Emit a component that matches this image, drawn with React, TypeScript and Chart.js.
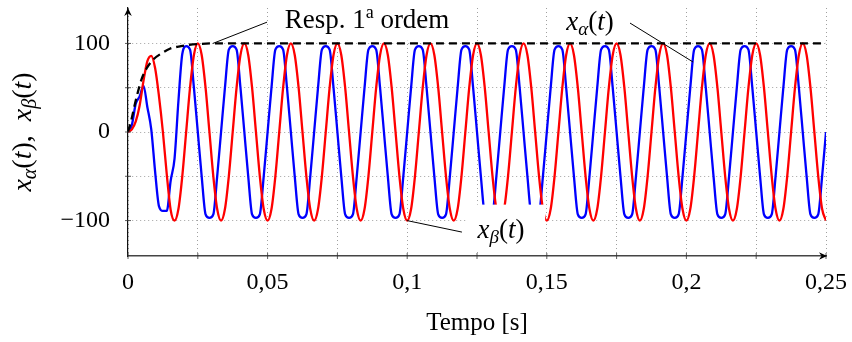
import React, { useEffect, useRef } from 'react';
import { Chart, registerables } from 'chart.js';

Chart.register(...registerables);

// ---------------- data ----------------
// sample times in milliseconds
const timeMs = [
  0, 1.39, 2.78, 4.17, 5.56, 6.94, 8.33, 9.72, 11.11, 12.5, 13.89, 15.28,
  16.67, 18.06, 19.44, 20.83, 22.22, 23.61, 25, 26.39, 27.78, 29.17, 30.56, 31.94,
  33.33, 34.72, 36.11, 37.5, 38.89, 40.28, 41.67, 43.06, 44.44, 45.83, 47.22, 48.61,
  50, 51.39, 52.78, 54.17, 55.56, 56.94, 58.33, 59.72, 61.11, 62.5, 63.89, 65.28,
  66.67, 68.06, 69.44, 70.83, 72.22, 73.61, 75, 76.39, 77.78, 79.17, 80.56, 81.94,
  83.33, 84.72, 86.11, 87.5, 88.89, 90.28, 91.67, 93.06, 94.44, 95.83, 97.22, 98.61,
  100, 101.39, 102.78, 104.17, 105.56, 106.94, 108.33, 109.72, 111.11, 112.5, 113.89, 115.28,
  116.67, 118.06, 119.44, 120.83, 122.22, 123.61, 125, 126.39, 127.78, 129.17, 130.56, 131.94,
  133.33, 134.72, 136.11, 137.5, 138.89, 140.28, 141.67, 143.06, 144.44, 145.83, 147.22, 148.61,
  150, 151.39, 152.78, 154.17, 155.56, 156.94, 158.33, 159.72, 161.11, 162.5, 163.89, 165.28,
  166.67, 168.06, 169.44, 170.83, 172.22, 173.61, 175, 176.39, 177.78, 179.17, 180.56, 181.94,
  183.33, 184.72, 186.11, 187.5, 188.89, 190.28, 191.67, 193.06, 194.44, 195.83, 197.22, 198.61,
  200, 201.39, 202.78, 204.17, 205.56, 206.94, 208.33, 209.72, 211.11, 212.5, 213.89, 215.28,
  216.67, 218.06, 219.44, 220.83, 222.22, 223.61, 225, 226.39, 227.78, 229.17, 230.56, 231.94,
  233.33, 234.72, 236.11, 237.5, 238.89, 240.28, 241.67, 243.06, 244.44, 245.83, 247.22, 248.61,
  250,
];

// x_alpha(t) (blue)
const xAlpha = [
  0, 8, 32, 40, 52, 28, 3, -45, -84, -89, -89, -55,
  -30, 35, 88, 97, 93, 50, 0, -50, -93, -97, -93, -50,
  0, 50, 93, 97, 93, 50, 0, -50, -93, -97, -93, -50,
  0, 50, 93, 97, 93, 50, 0, -50, -93, -97, -93, -50,
  0, 50, 93, 97, 93, 50, 0, -50, -93, -97, -93, -50,
  0, 50, 93, 97, 93, 50, 0, -50, -93, -97, -93, -50,
  0, 50, 93, 97, 93, 50, 0, -50, -93, -97, -93, -50,
  0, 50, 93, 97, 93, 50, 0, -50, -93, -97, -93, -50,
  0, 50, 93, 97, 93, 50, 0, -50, -93, -97, -93, -50,
  0, 50, 93, 97, 93, 50, 0, -50, -93, -97, -93, -50,
  0, 50, 93, 97, 93, 50, 0, -50, -93, -97, -93, -50,
  0, 50, 93, 97, 93, 50, 0, -50, -93, -97, -93, -50,
  0, 50, 93, 97, 93, 50, 0, -50, -93, -97, -93, -50,
  0, 50, 93, 97, 93, 50, 0, -50, -93, -97, -93, -50,
  0, 50, 93, 97, 93, 50, 0, -50, -93, -97, -93, -50,
  0,
];

// x_beta(t) (red)
const xBeta = [
  0, 3, 12, 30, 58, 80, 86, 72, 40, 0, -48, -88,
  -100, -87, -50, 0, 50, 87, 100, 87, 50, 0, -50, -87,
  -100, -87, -50, 0, 50, 87, 100, 87, 50, 0, -50, -87,
  -100, -87, -50, 0, 50, 87, 100, 87, 50, 0, -50, -87,
  -100, -87, -50, 0, 50, 87, 100, 87, 50, 0, -50, -87,
  -100, -87, -50, 0, 50, 87, 100, 87, 50, 0, -50, -87,
  -100, -87, -50, 0, 50, 87, 100, 87, 50, 0, -50, -87,
  -100, -87, -50, 0, 50, 87, 100, 87, 50, 0, -50, -87,
  -100, -87, -50, 0, 50, 87, 100, 87, 50, 0, -50, -87,
  -100, -87, -50, 0, 50, 87, 100, 87, 50, 0, -50, -87,
  -100, -87, -50, 0, 50, 87, 100, 87, 50, 0, -50, -87,
  -100, -87, -50, 0, 50, 87, 100, 87, 50, 0, -50, -87,
  -100, -87, -50, 0, 50, 87, 100, 87, 50, 0, -50, -87,
  -100, -87, -50, 0, 50, 87, 100, 87, 50, 0, -50, -87,
  -100, -87, -50, 0, 50, 87, 100, 87, 50, 0, -50, -87,
  -100,
];

// first-order response (black dashed)
const respTimeMs = [0, 1.3, 2.5, 3.7, 4.9, 6.7, 9.1, 12.1, 15, 19, 22, 26, 30, 250];
const respValues = [0, 15, 32, 47, 60, 72, 82, 89, 94, 97, 98.5, 99.5, 100, 100];

// tick labels
const xTickValues = [0, 0.05, 0.1, 0.15, 0.2, 0.25];
const xTickLabels = ['0', '0,05', '0,1', '0,15', '0,2', '0,25'];
const yTickValues = [-100, 0, 100];
const yTickLabels = ['\u2212100', '0', '100'];

// ---------------- styling / helpers ----------------
const FAMILY = "'Liberation Serif', 'Times New Roman', serif";

type Seg = { t: string; italic?: boolean; size: number; dy?: number };

const segFont = (s: Seg) => `${s.italic ? 'italic ' : ''}${s.size}px ${FAMILY}`;

function drawRich(ctx: CanvasRenderingContext2D, segs: Seg[], cx: number, baseY: number) {
  let w = 0;
  const widths = segs.map((s) => {
    ctx.font = segFont(s);
    const m = ctx.measureText(s.t).width;
    w += m;
    return m;
  });
  let x = cx - w / 2;
  ctx.textAlign = 'left';
  ctx.textBaseline = 'alphabetic';
  ctx.fillStyle = '#000';
  segs.forEach((s, i) => {
    ctx.font = segFont(s);
    ctx.fillText(s.t, x, baseY + (s.dy || 0));
    x += widths[i];
  });
}

const mathLabel = (greek: string, size = 27): Seg[] => [
  { t: 'x', italic: true, size },
  { t: greek, italic: true, size: Math.round(size * 0.7), dy: 5 },
  { t: '(', size },
  { t: 't', italic: true, size },
  { t: ')', size },
];

const RESP_SEGS: Seg[] = [
  { t: 'Resp. 1', size: 27 },
  { t: 'a', size: 18, dy: -10 },
  { t: ' ordem', size: 27 },
];

const Y_TITLE: Seg[] = [
  ...mathLabel('\u03B1', 28),
  { t: ',  ', size: 28 },
  ...mathLabel('\u03B2', 28),
];

// annotation placement in data units (t in s, value)
const LABELS = [
  { segs: RESP_SEGS, cx: 0.0856, base: 117, box: [0.0509, 0.1239, 144, 103], from: [0.0498, 124], to: [0.0304, 100] },
  { segs: mathLabel('\u03B1'), cx: 0.1655, base: 115, box: [0.1519, 0.1795, 144, 103], from: [0.1798, 123], to: [0.2024, 79] },
  { segs: mathLabel('\u03B2'), cx: 0.1336, base: -120, box: [0.1211, 0.1494, -82, -135], from: [0.1196, -113], to: [0.0999, -100] },
];

function arrowHead(ctx: CanvasRenderingContext2D, x: number, y: number, angle: number) {
  ctx.save();
  ctx.translate(x, y);
  ctx.rotate(angle);
  ctx.beginPath();
  ctx.moveTo(0, 0);
  ctx.lineTo(-8, -3.8);
  ctx.lineTo(-5.5, 0);
  ctx.lineTo(-8, 3.8);
  ctx.closePath();
  ctx.fillStyle = '#000';
  ctx.fill();
  ctx.restore();
}

const overlayPlugin = {
  id: 'overlay',
  afterDatasetsDraw(chart: any) {
    const { ctx, chartArea, scales } = chart;
    const xs = scales.x;
    const ys = scales.y;
    const px = (t: number) => xs.getPixelForValue(t);
    const py = (v: number) => ys.getPixelForValue(v);
    ctx.save();

    // small axis ticks
    ctx.strokeStyle = '#333';
    ctx.lineWidth = 0.8;
    xs.ticks.forEach((tk: any) => {
      const X = px(tk.value);
      ctx.beginPath();
      ctx.moveTo(X, chartArea.bottom - 3);
      ctx.lineTo(X, chartArea.bottom + 3);
      ctx.stroke();
    });
    ys.ticks.forEach((tk: any) => {
      if (Math.abs(tk.value) > 100) return;
      const Y = py(tk.value);
      ctx.beginPath();
      ctx.moveTo(chartArea.left - 3, Y);
      ctx.lineTo(chartArea.left + 3, Y);
      ctx.stroke();
    });

    // arrow heads
    arrowHead(ctx, chartArea.right + 1, chartArea.bottom, 0);
    arrowHead(ctx, chartArea.left, chartArea.top, -Math.PI / 2);

    // label boxes
    ctx.fillStyle = '#fff';
    LABELS.forEach((a) => {
      const x1 = px(a.box[0]);
      const x2 = px(a.box[1]);
      const y1 = py(a.box[2]);
      const y2 = py(a.box[3]);
      ctx.fillRect(Math.min(x1, x2), Math.min(y1, y2), Math.abs(x2 - x1), Math.abs(y2 - y1));
    });
    // leader lines
    ctx.strokeStyle = '#000';
    ctx.lineWidth = 1;
    LABELS.forEach((a) => {
      ctx.beginPath();
      ctx.moveTo(px(a.from[0]), py(a.from[1]));
      ctx.lineTo(px(a.to[0]), py(a.to[1]));
      ctx.stroke();
    });
    // texts
    LABELS.forEach((a) => drawRich(ctx, a.segs, px(a.cx), py(a.base)));

    // y-axis title (rotated)
    ctx.save();
    ctx.translate(31, (chartArea.top + chartArea.bottom) / 2);
    ctx.rotate(-Math.PI / 2);
    drawRich(ctx, Y_TITLE, 0, 0);
    ctx.restore();

    ctx.restore();
  },
};

const toPoints = (ts: number[], vs: number[]) => ts.map((t, i) => ({ x: t / 1000, y: vs[i] }));

export default function App() {
  const ref = useRef<HTMLCanvasElement | null>(null);

  useEffect(() => {
    document.body.style.margin = '0';
    const canvas = ref.current;
    if (!canvas) return;
    Chart.defaults.font.family = FAMILY;
    Chart.defaults.color = '#000';

    const chart = new Chart(canvas, {
      type: 'line',
      data: {
        datasets: [
          {
            label: 'Resp. 1a ordem',
            data: toPoints(respTimeMs, respValues),
            borderColor: '#000',
            borderWidth: 2.3,
            borderDash: [8, 5],
            pointRadius: 0,
            cubicInterpolationMode: 'monotone',
            fill: false,
          },
          {
            label: 'x_beta(t)',
            data: toPoints(timeMs, xBeta),
            borderColor: '#ff0000',
            borderWidth: 2.3,
            pointRadius: 0,
            cubicInterpolationMode: 'monotone',
            fill: false,
          },
          {
            label: 'x_alpha(t)',
            data: toPoints(timeMs, xAlpha),
            borderColor: '#0000ff',
            borderWidth: 2.3,
            pointRadius: 0,
            cubicInterpolationMode: 'monotone',
            fill: false,
          },
        ],
      },
      options: {
        responsive: false,
        animation: false,
        devicePixelRatio: 1,
        layout: { padding: { left: 0, right: 26, top: 8, bottom: 0 } },
        plugins: {
          legend: { display: false },
          tooltip: { enabled: false },
        },
        scales: {
          x: {
            type: 'linear',
            min: 0,
            max: 0.25,
            afterFit: (s: any) => {
              s.height = 86;
              s.paddingLeft = 0;
              s.paddingRight = 0;
            },
            ticks: {
              stepSize: 0.025,
              autoSkip: false,
              maxRotation: 0,
              padding: 12,
              color: '#000',
              font: { size: 24, family: FAMILY },
              callback: (v: any) => {
                const i = xTickValues.findIndex((t) => Math.abs(t - Number(v)) < 1e-9);
                return i >= 0 ? xTickLabels[i] : '';
              },
            },
            grid: { color: '#a0a0a0', lineWidth: 1, drawTicks: false },
            border: { display: true, color: '#444', width: 1.5, dash: [1, 3] },
            title: {
              display: true,
              text: 'Tempo [s]',
              color: '#000',
              font: { size: 25, family: FAMILY },
              padding: { top: 0, bottom: 4 },
            },
          },
          y: {
            type: 'linear',
            min: -140,
            max: 140,
            afterFit: (s: any) => {
              s.width = 128;
              s.paddingTop = 0;
              s.paddingBottom = 0;
            },
            ticks: {
              stepSize: 50,
              autoSkip: false,
              padding: 18,
              color: '#000',
              font: { size: 24, family: FAMILY },
              callback: (v: any) => {
                const i = yTickValues.findIndex((t) => Math.abs(t - Number(v)) < 1e-9);
                return i >= 0 ? yTickLabels[i] : '';
              },
            },
            grid: {
              color: (c: any) =>
                c.tick && Math.abs(c.tick.value) <= 100 ? '#a0a0a0' : 'rgba(0,0,0,0)',
              lineWidth: 1,
              drawTicks: false,
            },
            border: { display: true, color: '#111', width: 1.2, dash: [1, 3] },
          },
        },
      },
      plugins: [overlayPlugin],
    });

    return () => chart.destroy();
  }, []);

  return (
    <div style={{ width: 852, height: 342 }}>
      <canvas ref={ref} width={852} height={342} style={{ display: 'block' }} />
    </div>
  );
}
